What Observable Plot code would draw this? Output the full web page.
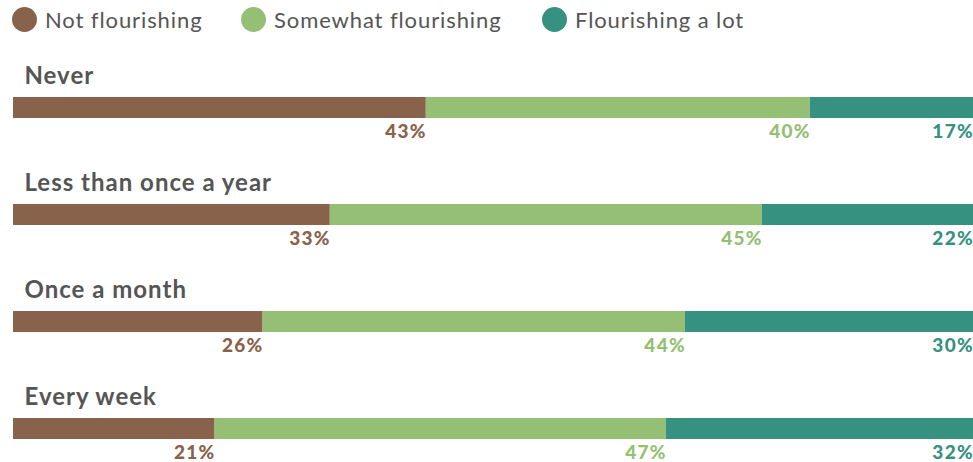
<!DOCTYPE html>
<html>
<head>
<meta charset="utf-8">
<script src="https://cdn.jsdelivr.net/npm/d3@7"></script>
<script src="https://cdn.jsdelivr.net/npm/@observablehq/plot@0.6"></script>
<style>
  html, body { margin: 0; padding: 0; background: #fff; }
  body { width: 973px; height: 462px; overflow: hidden; font-family: Lato, "Open Sans", sans-serif; }
  #legend { height: 40px; position: relative; }
  .item { position: absolute; top: 0; height: 38px; display: flex; align-items: center; font-size: 22px; color: #555; letter-spacing: 0.9px; }
  .dot { width: 25px; height: 25px; border-radius: 50%; margin-right: 8px; }
  svg { display: block; }
  .cat-label text { letter-spacing: 1px; }
  .pct-label text { letter-spacing: 1.3px; }
</style>
</head>
<body>
<div id="legend"></div>
<div id="chart"></div>
<script>
const categories = ["Never", "Less than once a year", "Once a month", "Every week"];
const seriesNames = ["Not flourishing", "Somewhat flourishing", "Flourishing a lot"];
const seriesColors = ["#88624a", "#95bf74", "#379181"];
const notFlourishing = [43, 33, 26, 21];
const somewhatFlourishing = [40, 45, 44, 47];
const flourishingALot = [17, 22, 30, 32];

const seriesValues = [notFlourishing, somewhatFlourishing, flourishingALot];
const rows = [];
categories.forEach((c, i) => {
  seriesNames.forEach((s, j) => rows.push({category: c, series: s, value: seriesValues[j][i]}));
});

// legend
const legendPos = [12, 241, 542];
const legend = document.getElementById("legend");
seriesNames.forEach((s, j) => {
  const it = document.createElement("div");
  it.className = "item";
  it.style.left = legendPos[j] + "px";
  it.innerHTML = `<span class="dot" style="background:${seriesColors[j]}"></span><span>${s}</span>`;
  legend.appendChild(it);
});

const chart = Plot.plot({
  width: 973,
  height: 422,
  marginLeft: 13,
  marginRight: 0,
  marginTop: 0,
  marginBottom: 0,
  style: {fontFamily: "Lato, 'Open Sans', sans-serif", background: "#fff", overflow: "visible"},
  x: {domain: [0, 100], range: [13, 973], axis: null},
  y: {type: "band", domain: categories, range: [57, 399], paddingInner: 86 / 107, paddingOuter: 0, axis: null},
  color: {domain: seriesNames, range: seriesColors},
  marks: [
    Plot.barX(rows, Plot.stackX({x: "value", y: "category", fill: "series", order: seriesNames})),
    Plot.text(rows, Plot.stackX2({
      x: "value", y: "category", order: seriesNames,
      text: d => d.value + "%", fill: "series",
      textAnchor: "end", dy: 24, dx: 0.5,
      fontSize: 19, fontWeight: 900, className: "pct-label"
    })),
    Plot.text(categories, {
      y: d => d, text: d => d, frameAnchor: "left", textAnchor: "start",
      dx: 11, dy: -32, fontSize: 24, fontWeight: 700, fill: "#555", className: "cat-label"
    })
  ]
});
document.getElementById("chart").appendChild(chart);
</script>
</body>
</html>
